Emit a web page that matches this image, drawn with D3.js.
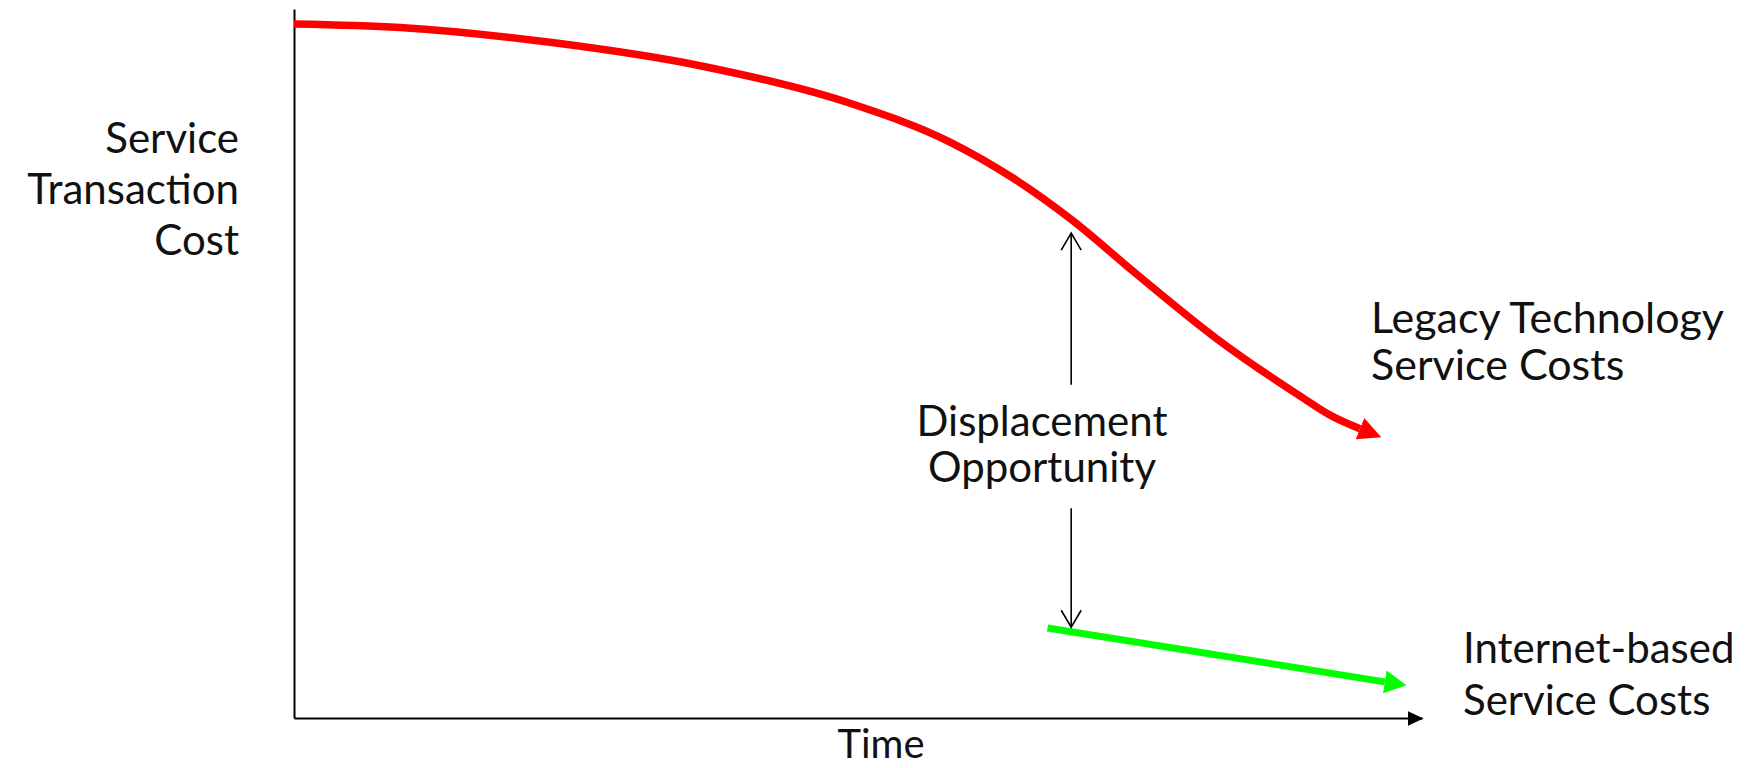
<!DOCTYPE html>
<html>
<head>
<meta charset="utf-8">
<script src="https://cdn.jsdelivr.net/npm/d3@7"></script>
<style>
  html, body { margin: 0; padding: 0; background: #fff; }
  svg text { font-family: Lato, "Open Sans", sans-serif; fill: #111; }
</style>
</head>
<body>
<div id="chart"></div>
<script>
// chart units: time 0..100 across, cost 0..100 up
const legacyTime = [0, 9.4, 22.7, 36.0, 49.3, 58.2, 63.7, 69.0, 74.4, 81.8, 89.2, 92.1, 94.5];
const legacyCost = [97.9, 97.4, 95.3, 92.0, 86.7, 81.2, 76.2, 70.2, 63.0, 53.5, 45.4, 42.5, 40.8];
const internetTime = [66.8, 96.7];
const internetCost = [12.7, 5.1];
const gapTime = 68.9;
const gapUp = [47.0, 68.4];   // arrow toward legacy curve
const gapDown = [29.6, 12.8]; // arrow toward internet line

const yLabel = ["Service", "Transaction", "Cost"];
const xLabel = "Time";
const legacyLabel = ["Legacy Technology", "Service Costs"];
const internetLabel = ["Internet-based", "Service Costs"];
const gapLabel = ["Displacement", "Opportunity"];

const width = 1764, height = 768;
const margin = {top: 9, right: 342, bottom: 50, left: 294};

const svg = d3.select("#chart").append("svg")
  .attr("width", width)
  .attr("height", height);

const x = d3.scaleLinear().domain([0, 100]).range([margin.left, width - margin.right]);
const y = d3.scaleLinear().domain([0, 100]).range([height - margin.bottom, margin.top]);

const defs = svg.append("defs");

function solidHead(id, color, len, half){
  defs.append("marker")
    .attr("id", id)
    .attr("markerUnits", "userSpaceOnUse")
    .attr("viewBox", `0 ${-half} ${len} ${half*2}`)
    .attr("markerWidth", len)
    .attr("markerHeight", half*2)
    .attr("refX", 0)
    .attr("refY", 0)
    .attr("orient", "auto")
    .append("path")
    .attr("d", `M0,${-half}L${len},0L0,${half}Z`)
    .attr("fill", color);
}
solidHead("headRed", "#ff0000", 23, 11.5);
solidHead("headGreen", "#00ff00", 22, 11.5);

defs.append("marker")
  .attr("id", "headAxis")
  .attr("markerUnits", "userSpaceOnUse")
  .attr("viewBox", "0 -8 16 16")
  .attr("markerWidth", 16)
  .attr("markerHeight", 16)
  .attr("refX", 15)
  .attr("refY", 0)
  .attr("orient", "auto")
  .append("path")
  .attr("d", "M0,-7.5L16,0L0,7.5Z")
  .attr("fill", "#000");

defs.append("marker")
  .attr("id", "headOpen")
  .attr("markerUnits", "userSpaceOnUse")
  .attr("viewBox", "-20 -12 24 24")
  .attr("markerWidth", 24)
  .attr("markerHeight", 24)
  .attr("refX", 0)
  .attr("refY", 0)
  .attr("orient", "auto")
  .append("path")
  .attr("d", "M-17,-10L0,0L-17,10")
  .attr("fill", "none")
  .attr("stroke", "#000")
  .attr("stroke-width", 1.6);

// axes: bare lines, no ticks
svg.append("g")
  .attr("transform", `translate(0,${y(0)})`)
  .call(d3.axisBottom(x).ticks(0).tickSizeOuter(0))
  .call(g => g.select(".domain")
    .attr("stroke-width", 2.2)
    .attr("marker-end", "url(#headAxis)"));

svg.append("g")
  .attr("transform", `translate(${x(0)},0)`)
  .call(d3.axisLeft(y).ticks(0).tickSizeOuter(0))
  .call(g => g.select(".domain").attr("stroke-width", 2));

const line = d3.line()
  .x(d => x(d[0]))
  .y(d => y(d[1]))
  .curve(d3.curveMonotoneX);

svg.append("path")
  .datum(d3.zip(legacyTime, legacyCost))
  .attr("d", line)
  .attr("fill", "none")
  .attr("stroke", "#ff0000")
  .attr("stroke-width", 7.5)
  .attr("marker-end", "url(#headRed)");

svg.append("path")
  .datum(d3.zip(internetTime, internetCost))
  .attr("d", d3.line().x(d => x(d[0])).y(d => y(d[1])))
  .attr("fill", "none")
  .attr("stroke", "#00ff00")
  .attr("stroke-width", 7)
  .attr("marker-end", "url(#headGreen)");

[gapUp, gapDown].forEach(seg => {
  svg.append("line")
    .attr("x1", x(gapTime)).attr("x2", x(gapTime))
    .attr("y1", y(seg[0])).attr("y2", y(seg[1]))
    .attr("stroke", "#000")
    .attr("stroke-width", 1.6)
    .attr("marker-end", "url(#headOpen)");
});

function block(lines, px, py, anchor, size, gap){
  const t = svg.append("text")
    .attr("text-anchor", anchor)
    .attr("font-size", size);
  lines.forEach((s, i) => {
    t.append("tspan")
      .attr("x", px)
      .attr("y", py + i*gap)
      .text(s);
  });
}

block(yLabel, 239, 153, "end", 42, 51);
block(legacyLabel, 1371, 333, "start", 43, 47);
block(internetLabel, 1463, 663, "start", 42, 52);
block(gapLabel, 1042, 436, "middle", 42, 46);
block([xLabel], 881, 758, "middle", 40, 0);
</script>
</body>
</html>
